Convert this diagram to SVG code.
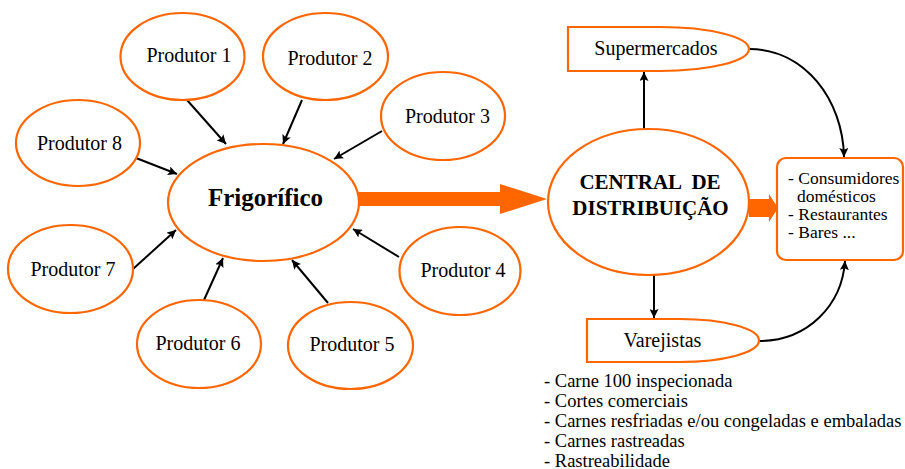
<svg xmlns="http://www.w3.org/2000/svg" width="905" height="469" viewBox="0 0 905 469">
<defs>
<style>
.n{fill:#fff;stroke:#FF6600;stroke-width:2.2}
text{font-family:'Liberation Serif','Times New Roman',Tinos,'DejaVu Serif',serif;fill:#000}
.t{font-size:20px}
.b{font-weight:bold}
.f{font-size:25px;font-weight:bold}
.d{font-size:21px;font-weight:bold}
.s{font-size:17.5px}
.l{font-size:18.5px}
.c{fill:none;stroke:#000;stroke-width:2}
.big{fill:#FF6600;stroke:none}
</style>
<marker id="ah" viewBox="0 0 10 10" refX="10" refY="5" markerWidth="9" markerHeight="9" markerUnits="userSpaceOnUse" orient="auto">
<path d="M0,0 L10,5 L0,10 L2,5 Z" fill="#000"/>
</marker>
</defs>
<rect width="905" height="469" fill="#fff"/>
<g id="connectors">
<line class="c" x1="187" y1="100" x2="226" y2="144" marker-end="url(#ah)"/>
<line class="c" x1="302" y1="100" x2="283" y2="144" marker-end="url(#ah)"/>
<line class="c" x1="382" y1="131" x2="334" y2="159" marker-end="url(#ah)"/>
<line class="c" x1="136" y1="158" x2="177" y2="174" marker-end="url(#ah)"/>
<line class="c" x1="133" y1="269" x2="176" y2="230" marker-end="url(#ah)"/>
<line class="c" x1="204" y1="300" x2="223" y2="258" marker-end="url(#ah)"/>
<line class="c" x1="328" y1="303" x2="292" y2="260" marker-end="url(#ah)"/>
<line class="c" x1="399" y1="257" x2="353" y2="229" marker-end="url(#ah)"/>
<path class="big" d="M358,192 H500 V184 L547,199 L500,214 V206 H358 Z"/>
<path class="big" d="M749,199 H769 V194 L778,208 L769,222 V217 H749 Z"/>
<line class="c" x1="644" y1="129" x2="644" y2="72" marker-end="url(#ah)"/>
<line class="c" x1="654" y1="275" x2="654" y2="318" marker-end="url(#ah)"/>
<path class="c" d="M749,49 C805,49 843,100 844,157" marker-end="url(#ah)"/>
<path class="c" d="M759,341 C808,341 842,305 845,261" marker-end="url(#ah)"/>
</g>
<g id="p1"><ellipse class="n" cx="182.5" cy="56.5" rx="62" ry="43.5"/><text class="t" x="189" y="62" text-anchor="middle">Produtor 1</text></g>
<g id="p2"><ellipse class="n" cx="325.5" cy="56.5" rx="62.5" ry="43.5"/><text class="t" x="330" y="65" text-anchor="middle">Produtor 2</text></g>
<g id="p3"><ellipse class="n" cx="443" cy="116" rx="62" ry="44"/><text class="t" x="447.5" y="123" text-anchor="middle">Produtor 3</text></g>
<g id="p4"><ellipse class="n" cx="460" cy="271" rx="60.5" ry="44"/><text class="t" x="463" y="277" text-anchor="middle">Produtor 4</text></g>
<g id="p5"><ellipse class="n" cx="350.5" cy="345.5" rx="62.5" ry="43.5"/><text class="t" x="352" y="351" text-anchor="middle">Produtor 5</text></g>
<g id="p6"><ellipse class="n" cx="199" cy="344" rx="62" ry="44"/><text class="t" x="198" y="350" text-anchor="middle">Produtor 6</text></g>
<g id="p7"><ellipse class="n" cx="70.5" cy="269" rx="62.5" ry="44"/><text class="t" x="73" y="276" text-anchor="middle">Produtor 7</text></g>
<g id="p8"><ellipse class="n" cx="78" cy="143" rx="62" ry="43"/><text class="t" x="79.5" y="150" text-anchor="middle">Produtor 8</text></g>
<g id="frigorifico"><ellipse class="n" cx="263.5" cy="202.5" rx="95.5" ry="58.5"/><text class="f" x="265.5" y="206" text-anchor="middle">Frigorífico</text></g>
<g id="central"><ellipse class="n" cx="648.5" cy="202" rx="100.5" ry="73"/><text class="d" x="650" y="189" text-anchor="middle" xml:space="preserve">CENTRAL  DE</text><text class="d" x="650.5" y="215" text-anchor="middle">DISTRIBUIÇÃO</text></g>
<g id="supermercados"><path class="n" d="M568,27 H660 A89,22 0 0 1 660,71 H568 Z"/><text class="t" x="656" y="55" text-anchor="middle">Supermercados</text></g>
<g id="varejistas"><path class="n" d="M587,319 H680 A79,21.5 0 0 1 680,362 H587 Z"/><text class="t" x="662.5" y="347" text-anchor="middle">Varejistas</text></g>
<g id="consumidores"><rect class="n" x="777" y="158" width="126" height="102" rx="9"/>
<text class="s" x="788" y="184">- Consumidores</text>
<text class="s" x="797" y="202">domésticos</text>
<text class="s" x="788" y="220">- Restaurantes</text>
<text class="s" x="788" y="238">- Bares ...</text></g>
<g id="lista">
<text class="l" x="544" y="387">- Carne 100 inspecionada</text>
<text class="l" x="544" y="407">- Cortes comerciais</text>
<text class="l" x="544" y="427">- Carnes resfriadas e/ou congeladas e embaladas</text>
<text class="l" x="544" y="447">- Carnes rastreadas</text>
<text class="l" x="544" y="467">- Rastreabilidade</text>
</g>
</svg>
